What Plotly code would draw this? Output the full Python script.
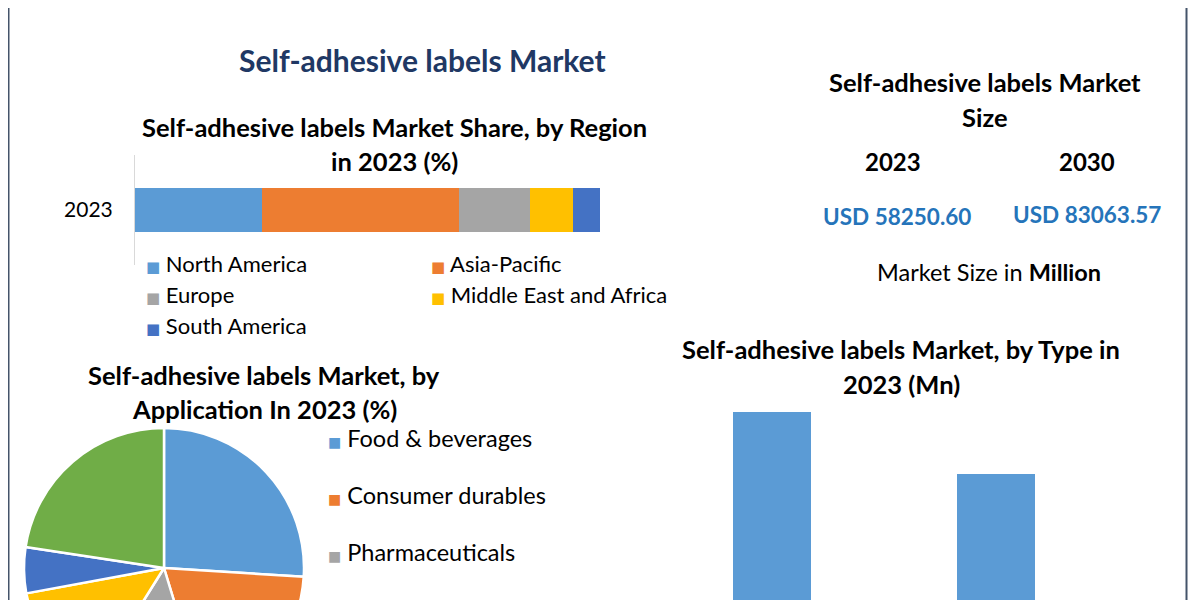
import plotly.graph_objects as go

# ---------------- data ----------------
regions = ["North America", "Asia-Pacific", "Europe", "Middle East and Africa", "South America"]
region_share = [27.3, 42.4, 15.3, 9.2, 5.8]
region_colors = ["#5B9BD5", "#ED7D31", "#A5A5A5", "#FFC000", "#4472C4"]
region_year = ["2023"]

applications = ["Food & beverages", "Consumer durables", "Pharmaceuticals",
                "Retail", "Home & personal care", "Others"]
application_share = [26.0, 19.3, 13.6, 13.2, 5.3, 22.6]
application_colors = ["#5B9BD5", "#ED7D31", "#A5A5A5", "#FFC000", "#4472C4", "#70AD47"]

types = ["Permanent", "Removable"]
type_values = [32620, 25630]

size_years = ["2023", "2030"]
size_values = ["USD 58250.60", "USD 83063.57"]

# page body has an 8px margin; positions below are given in screen pixels
OFF = 8
W, H = 1192, 792
FONT = "Lato"


def px(x):
    return (x - OFF) / W


def py(top_px):
    """convert a top-based screen pixel position to paper y"""
    return 1 - (top_px - OFF) / H


fig = go.Figure()

# stacked regional bar
for name, val, col in zip(regions, region_share, region_colors):
    fig.add_trace(go.Bar(
        x=[val], y=region_year, orientation="h", name=name,
        marker=dict(color=col, line=dict(width=0)),
        xaxis="x2", yaxis="y2", showlegend=False, hoverinfo="x+name"))

# pie by application
fig.add_trace(go.Pie(
    labels=applications, values=application_share, sort=False,
    direction="clockwise", rotation=0,
    marker=dict(colors=application_colors, line=dict(color="white", width=2.5)),
    textinfo="none", showlegend=False,
    domain=dict(x=[px(24), px(304)], y=[py(708), py(428)])))

# bar by type
fig.add_trace(go.Bar(
    x=types, y=type_values, marker=dict(color="#5B9BD5", line=dict(width=0)),
    xaxis="x", yaxis="y", showlegend=False, width=0.35))

fig.update_layout(
    width=W, height=H,
    margin=dict(l=0, r=0, t=0, b=0),
    paper_bgcolor="white", plot_bgcolor="white",
    barmode="stack",
    bargap=0.6,
    font=dict(family=FONT, color="#000000"),
    xaxis=dict(domain=[px(660), px(1108)], showticklabels=False, showline=False,
               showgrid=False, zeroline=False, ticks=""),
    yaxis=dict(domain=[py(700), py(400)], range=[0, 34000], showticklabels=False,
               showgrid=False, zeroline=False, showline=False),
    xaxis2=dict(domain=[px(135), px(600)], range=[0, 100], showticklabels=False,
                showgrid=False, zeroline=False, showline=False, anchor="y2"),
    yaxis2=dict(domain=[py(265), py(155)], anchor="x2", showline=True,
                linecolor="#D9D9D9", linewidth=1, ticks="", showgrid=False,
                ticklabelstandoff=17,
                tickfont=dict(family=FONT, size=21, color="#000000")),
)

ann = []


def text(x, y, s, size, color="#000000", bold=True, xanchor="center", family=FONT):
    ann.append(dict(x=px(x), y=py(y), xref="paper", yref="paper", text=(f"<b>{s}</b>" if bold else s),
                    showarrow=False, xanchor=xanchor, yanchor="middle",
                    font=dict(family=family, size=size, color=color)))


text(422, 60, "Self-adhesive labels Market", 30, color="#203864")
text(394, 127, "Self-adhesive labels Market Share, by Region", 25.5)
text(394, 161, "in 2023 (%)", 25.5)
text(985, 82, "Self-adhesive labels Market", 25.5)
text(985, 117, "Size", 25.5)
text(893, 162, size_years[0], 24)
text(1087, 162, size_years[1], 24)
text(897, 217, size_values[0], 22.5, color="#2574BA")
text(1087, 214, size_values[1], 22.5, color="#2574BA")
text(989, 272, "Market Size in <b>Million</b>", 23.5, bold=False)
text(264, 375, "Self-adhesive labels Market, by", 25.5)
text(264, 409, "Application In 2023 (%)", 25.5)
text(901, 349, "Self-adhesive labels Market, by Type in", 25.5)
text(901, 384, "2023 (Mn)", 25.5)

# region legend (two columns)
leg_pos = [(144, 263), (429, 263), (144, 294), (429, 294), (144, 325)]
for (lx, ly), name, col in zip(leg_pos, regions, region_colors):
    text(lx, ly, f"<span style='color:{col};font-family:DejaVu Sans;font-size:15px'>■</span> {name}",
         22, bold=False, xanchor="left")

# application legend (only the entries that fit on the page)
for i, (name, col) in enumerate(zip(applications[:3], application_colors[:3])):
    text(326, 438 + 57 * i, f"<span style='color:{col};font-family:DejaVu Sans;font-size:14px'>■</span> {name}",
         23.5, bold=False, xanchor="left")

fig.update_layout(annotations=ann)

# frame lines (left and right border of the infographic panel)
for xl in (8.5, 1186.5):
    fig.add_shape(type="line", xref="paper", yref="paper", x0=px(xl), x1=px(xl),
                  y0=0, y1=1, layer="above", line=dict(color="#44546A", width=2))

fig.write_html(
    "out.html",
    post_script="document.documentElement.style.overflow='hidden';"
                "document.body.style.overflow='hidden';",
)
